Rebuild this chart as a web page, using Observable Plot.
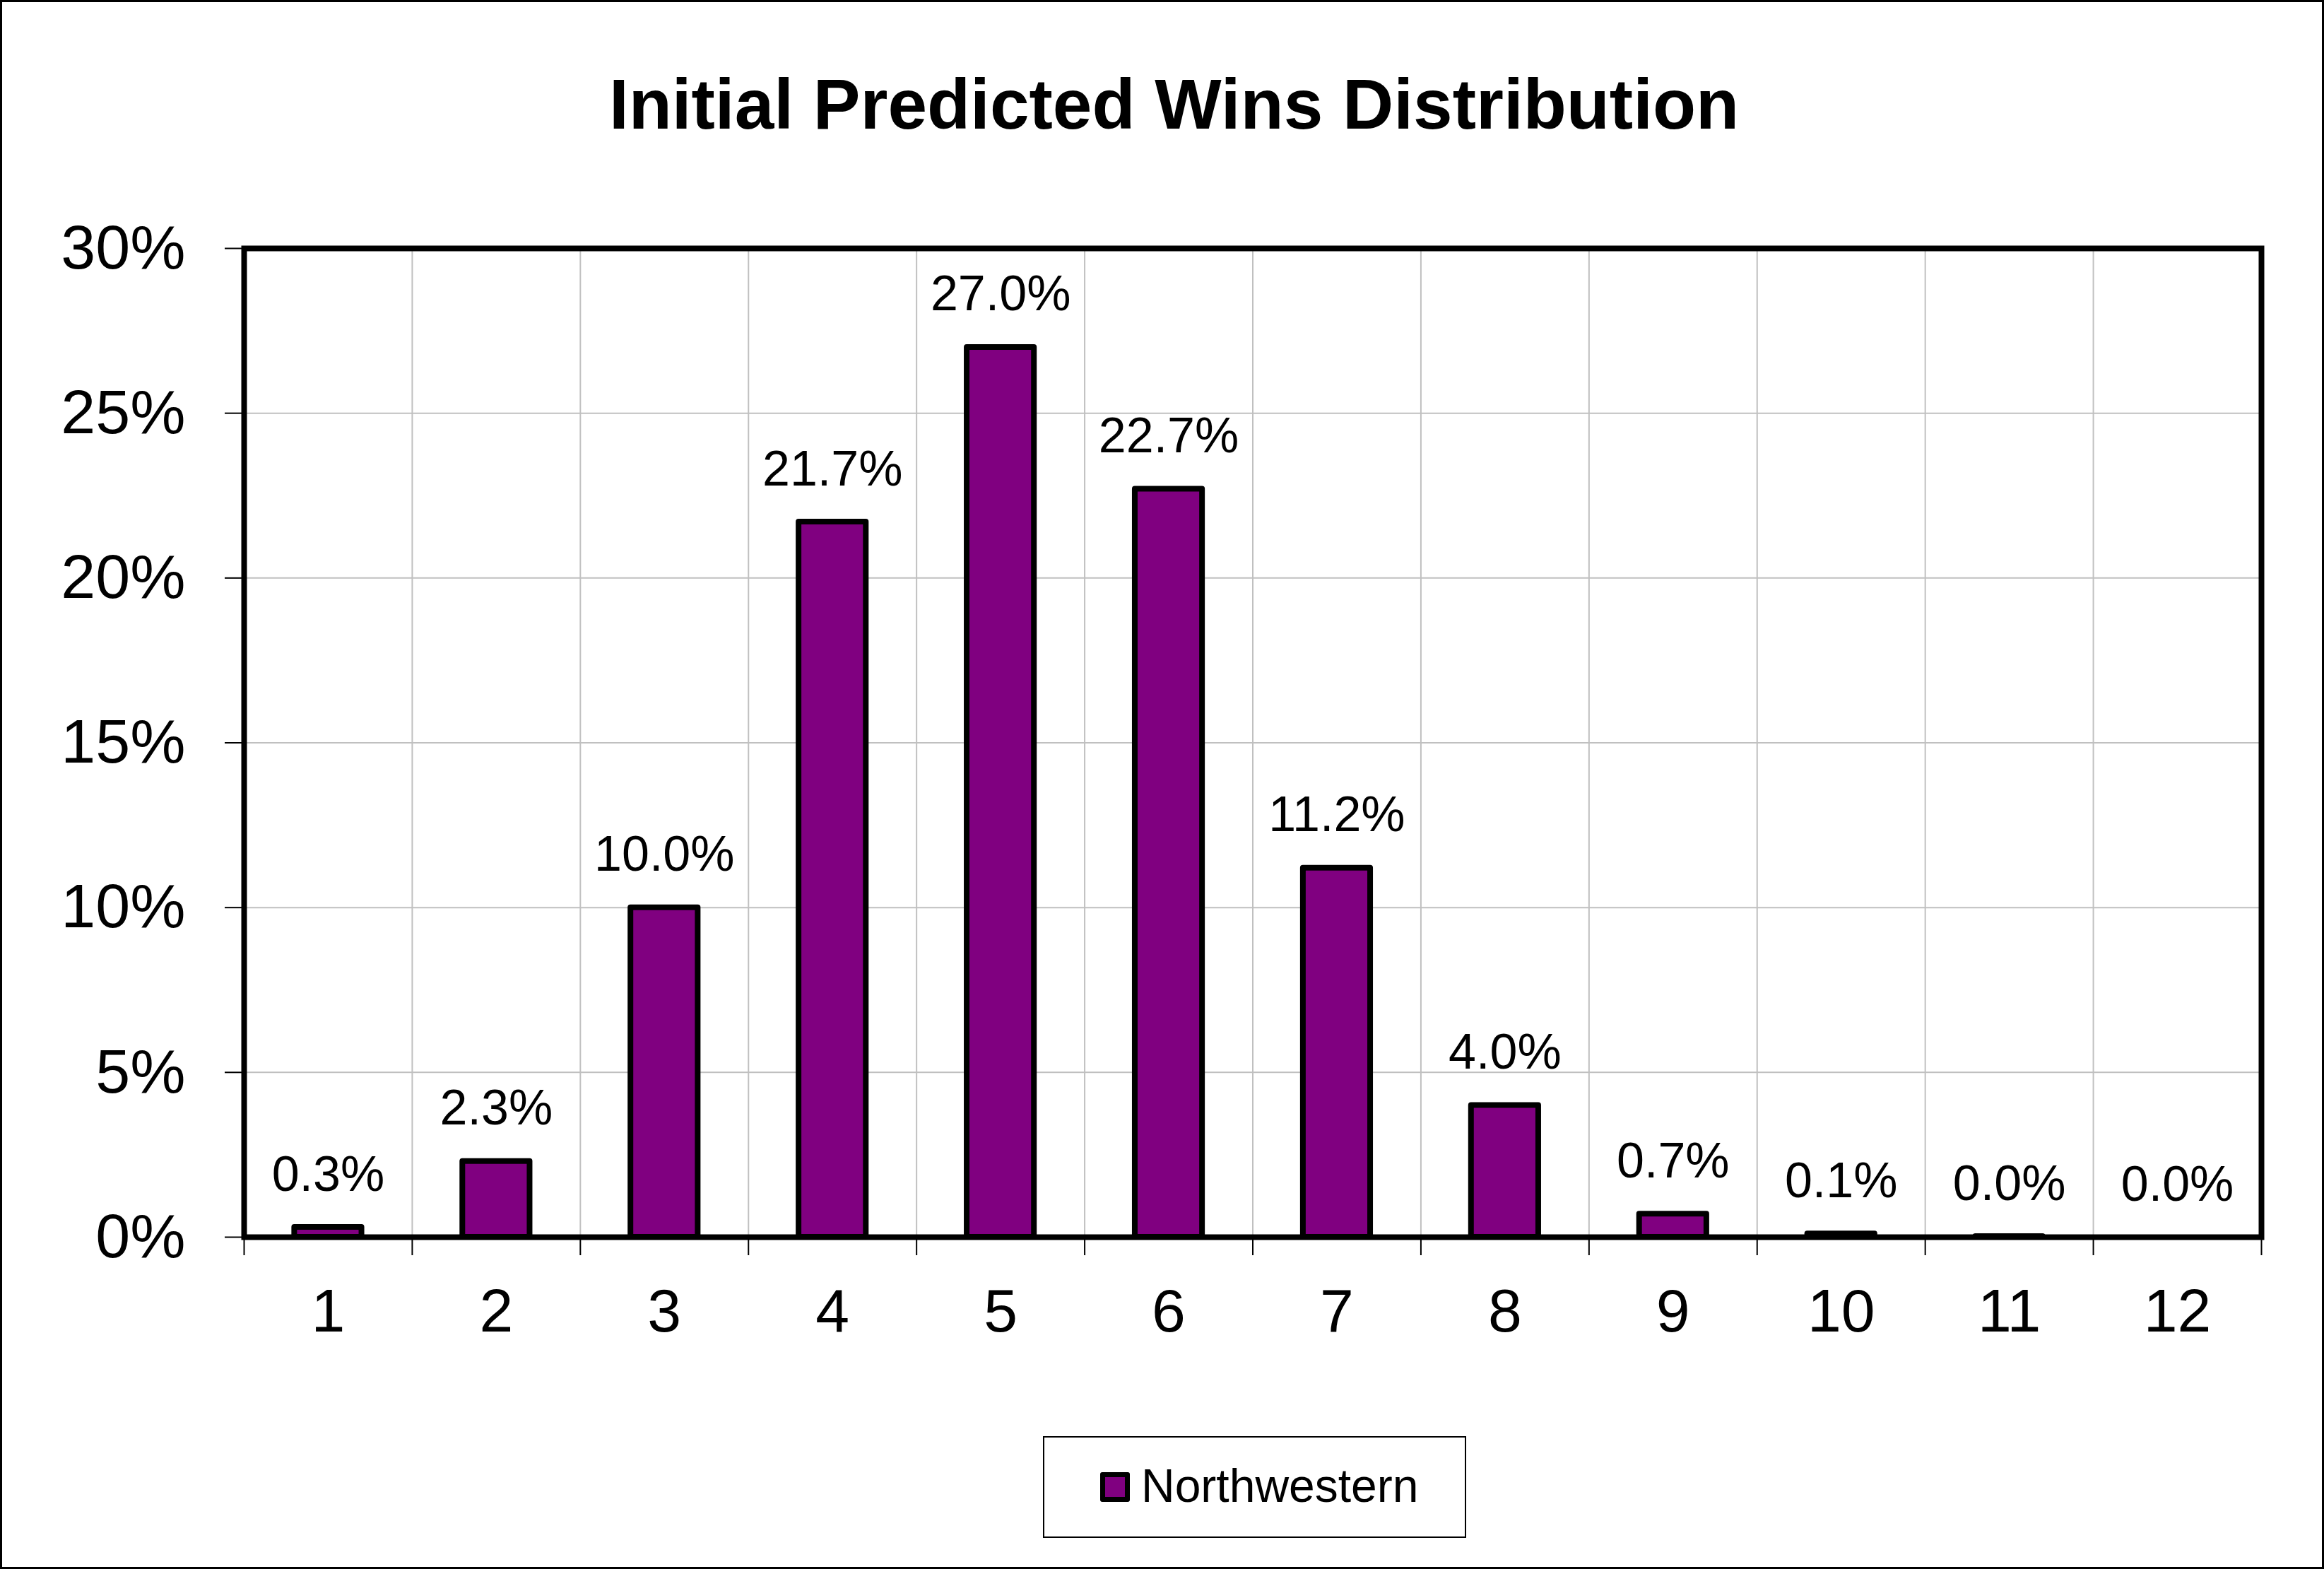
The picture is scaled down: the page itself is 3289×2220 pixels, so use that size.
<!DOCTYPE html>
<html>
<head>
<meta charset="utf-8">
<script src="https://cdn.jsdelivr.net/npm/d3@7"></script>
<script src="https://cdn.jsdelivr.net/npm/@observablehq/plot@0.6"></script>
<style>
  html, body { margin: 0; padding: 0; background: white; }
  #chart {
    position: relative; width: 3289px; height: 2220px; box-sizing: border-box;
    outline: 3px solid black; outline-offset: -3px; overflow: hidden;
    font-family: "Liberation Sans", Arial, sans-serif; background: white;
  }
  #title {
    height: 230px; box-sizing: border-box; padding-top: 98px;
    font-size: 100px; line-height: 99px; font-weight: bold; text-align: center;
    transform: translateX(17px); white-space: nowrap;
  }
  #legendWrap { height: 310px; position: relative; }
  #legend {
    position: absolute; left: 1476px; top: 122px; width: 599px; height: 144px;
    box-sizing: border-box; border: 2px solid black; background: white;
  }
  #swatch {
    position: absolute; left: 79px; top: 49px; width: 42px; height: 42px;
    box-sizing: border-box; border: 7px solid black; border-radius: 3px; background: #800080;
  }
  #legendText {
    position: absolute; left: 137px; top: 35px; font-size: 66px; line-height: 66px; white-space: nowrap;
  }
</style>
</head>
<body>
<div id="chart">
  <div id="title"></div>
  <div id="plot"></div>
  <div id="legendWrap"><div id="legend"><div id="swatch"></div><div id="legendText"></div></div></div>
</div>
<script>
// ---- data ----
const titleText = "Initial Predicted Wins Distribution";
const seriesName = "Northwestern";
const wins = [1, 2, 3, 4, 5, 6, 7, 8, 9, 10, 11, 12];
const pct = [0.3, 2.3, 10.0, 21.7, 27.0, 22.7, 11.2, 4.0, 0.7, 0.1, 0.02, 0.0];
const yTicks = [0, 5, 10, 15, 20, 25, 30];

const data = wins.map((w, i) => ({wins: w, pct: pct[i]}));
const boundaries = wins.map(w => w - 0.5).concat([wins[wins.length - 1] + 0.5]);

document.getElementById("title").textContent = titleText;
document.getElementById("legendText").textContent = seriesName;

const chart = Plot.plot({
  width: 3289,
  height: 1680,
  marginTop: 121,
  marginBottom: 160,
  marginLeft: 345,
  marginRight: 89,
  style: {background: "transparent", fontFamily: "Liberation Sans, Arial, sans-serif", color: "black"},
  x: {domain: [0.5, 12.5]},
  y: {domain: [0, 30]},
  marks: [
    Plot.gridY({ticks: yTicks, stroke: "#c0c0c0", strokeOpacity: 1, strokeWidth: 2}),
    Plot.gridX({ticks: boundaries, stroke: "#c0c0c0", strokeOpacity: 1, strokeWidth: 2}),
    Plot.rectY(data, {x1: d => d.wins - 0.2, x2: d => d.wins + 0.2, y: "pct",
      fill: "#800080", stroke: "black", strokeWidth: 8, strokeLinejoin: "round"}),
    Plot.frame({stroke: "black", strokeWidth: 8}),
    Plot.axisY({ticks: yTicks, tickSize: 27, tickPadding: 56, tickFormat: d => d + "%",
      fontSize: 88, strokeWidth: 2, label: null}),
    Plot.axisX({ticks: boundaries, tickSize: 26, tickFormat: () => "", strokeWidth: 2, label: null}),
    Plot.axisX({ticks: wins, tickSize: 0, tickPadding: 72, tickFormat: d => String(d),
      fontSize: 86, label: null}),
    Plot.text(data, {x: "wins", y: "pct", text: d => d.pct.toFixed(1) + "%",
      dy: -52, lineAnchor: "bottom", fontSize: 70, fill: "black"})
  ]
});
document.getElementById("plot").appendChild(chart);
</script>
</body>
</html>
